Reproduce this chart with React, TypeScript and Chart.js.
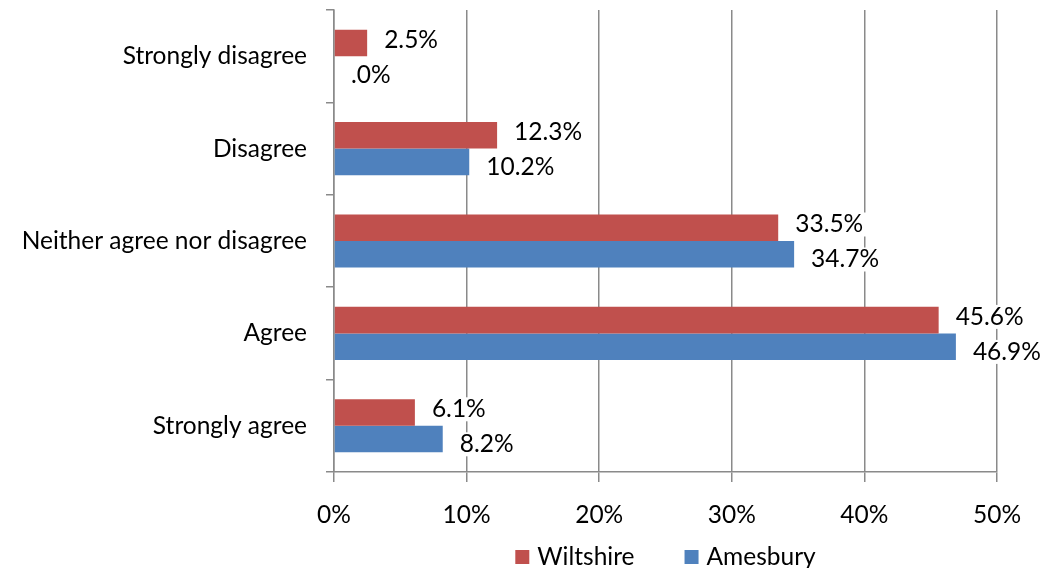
import React, { useEffect, useRef } from "react";
import { Chart, registerables } from "chart.js";

Chart.register(...registerables);

const categories = [
  "Strongly disagree",
  "Disagree",
  "Neither agree nor disagree",
  "Agree",
  "Strongly agree",
];
const wiltshire = [2.5, 12.3, 33.5, 45.6, 6.1];
const amesbury = [0.0, 10.2, 34.7, 46.9, 8.2];
const seriesNames = ["Wiltshire", "Amesbury"];
const seriesColors = ["#C0504D", "#4F81BD"];
const xTicks = [0, 10, 20, 30, 40, 50];

const FONT_FAMILY = "Lato, 'Open Sans', sans-serif";
const FONT_SIZE = 24.5;
const GRID = "#8a8a8a";

function fmtLabel(v: number): string {
  const s = v.toFixed(1);
  return (s.startsWith("0.") ? s.slice(1) : s) + "%";
}

const dataLabelPlugin = {
  id: "dataLabels",
  afterDatasetsDraw(chart: any) {
    const ctx = chart.ctx;
    ctx.save();
    ctx.font = `${FONT_SIZE}px ${FONT_FAMILY}`;
    ctx.textBaseline = "middle";
    ctx.textAlign = "left";
    const offset = 17;
    const minSep = 35;
    const n = chart.data.labels.length;
    const dsCount = chart.data.datasets.length;
    for (let i = 0; i < n; i++) {
      const items: any[] = [];
      for (let di = 0; di < dsCount; di++) {
        const bar = chart.getDatasetMeta(di).data[i];
        const txt = fmtLabel(chart.data.datasets[di].data[i]);
        const w = ctx.measureText(txt).width;
        items.push({ txt, x: bar.x + offset, y: bar.y + 1, w });
      }
      // simple overlap avoidance between the two labels of a category
      if (items.length === 2) {
        const [a, b] = items;
        const overlapX = a.x < b.x + b.w && b.x < a.x + a.w;
        if (overlapX && b.y - a.y < minSep) {
          const mid = (a.y + b.y) / 2;
          a.y = mid - minSep / 2;
          b.y = mid + minSep / 2;
        }
      }
      items.forEach((it) => {
        ctx.fillStyle = "#ffffff";
        ctx.fillRect(it.x - 3, it.y - 12, it.w + 6, 24);
        ctx.fillStyle = "#000000";
        ctx.fillText(it.txt, it.x, it.y);
      });
    }
    ctx.restore();
  },
};

const legendPlugin = {
  id: "customLegend",
  afterDraw(chart: any) {
    const ctx = chart.ctx;
    const area = chart.chartArea;
    ctx.save();
    ctx.font = `${FONT_SIZE}px ${FONT_FAMILY}`;
    ctx.textBaseline = "middle";
    ctx.textAlign = "left";
    const box = 14;
    const gapText = 8;
    const gapItem = 50;
    const widths = seriesNames.map((n) => ctx.measureText(n).width);
    const total =
      widths.reduce((a, b) => a + b, 0) +
      seriesNames.length * (box + gapText) +
      gapItem * (seriesNames.length - 1);
    let x = (area.left + area.right) / 2 - total / 2;
    const y = chart.height - 11;
    seriesNames.forEach((n, i) => {
      ctx.fillStyle = seriesColors[i];
      ctx.fillRect(x, y - box / 2, box, box);
      x += box + gapText;
      ctx.fillStyle = "#000000";
      ctx.fillText(n, x, y);
      x += widths[i] + gapItem;
    });
    ctx.restore();
  },
};

export default function App() {
  const ref = useRef<HTMLCanvasElement | null>(null);
  useEffect(() => {
    if (!ref.current) return;
    const chart = new Chart(ref.current, {
      type: "bar",
      data: {
        labels: categories,
        datasets: [
          {
            label: seriesNames[0],
            data: wiltshire,
            backgroundColor: seriesColors[0],
            categoryPercentage: 0.575,
            barPercentage: 1,
          },
          {
            label: seriesNames[1],
            data: amesbury,
            backgroundColor: seriesColors[1],
            categoryPercentage: 0.575,
            barPercentage: 1,
          },
        ],
      },
      options: {
        indexAxis: "y",
        animation: false,
        responsive: true,
        maintainAspectRatio: false,
        layout: { padding: { top: 10, right: 58, left: 0, bottom: 0 } },
        plugins: {
          legend: { display: false },
          tooltip: { enabled: false },
        },
        scales: {
          x: {
            min: 0,
            max: 50,
            afterBuildTicks(scale: any) {
              scale.ticks = xTicks.map((v) => ({ value: v }));
            },
            afterFit(scale: any) {
              scale.height = 96;
            },
            ticks: {
              callback: (v: any) => `${v}%`,
              color: "#000",
              font: { family: FONT_FAMILY, size: FONT_SIZE },
              padding: 18,
              maxRotation: 0,
            },
            grid: {
              color: GRID,
              lineWidth: 1.5,
              tickLength: 10,
              drawTicks: true,
            },
            border: { color: GRID, width: 1.5 },
          },
          y: {
            afterFit(scale: any) {
              scale.width = 334;
              scale.paddingTop = 0;
              scale.paddingBottom = 0;
            },
            ticks: {
              color: "#000",
              font: { family: FONT_FAMILY, size: FONT_SIZE },
              padding: 19,
            },
            grid: {
              offset: true,
              drawOnChartArea: false,
              drawTicks: true,
              tickLength: 8,
              color: GRID,
              lineWidth: 1.5,
            },
            border: { color: GRID, width: 1.5 },
          },
        },
      },
      plugins: [dataLabelPlugin, legendPlugin],
    });
    return () => chart.destroy();
  }, []);
  return (
    <div
      style={{
        position: "fixed",
        left: 0,
        top: 0,
        width: 1055,
        height: 568,
        background: "#fff",
      }}
    >
      <canvas ref={ref} />
    </div>
  );
}
